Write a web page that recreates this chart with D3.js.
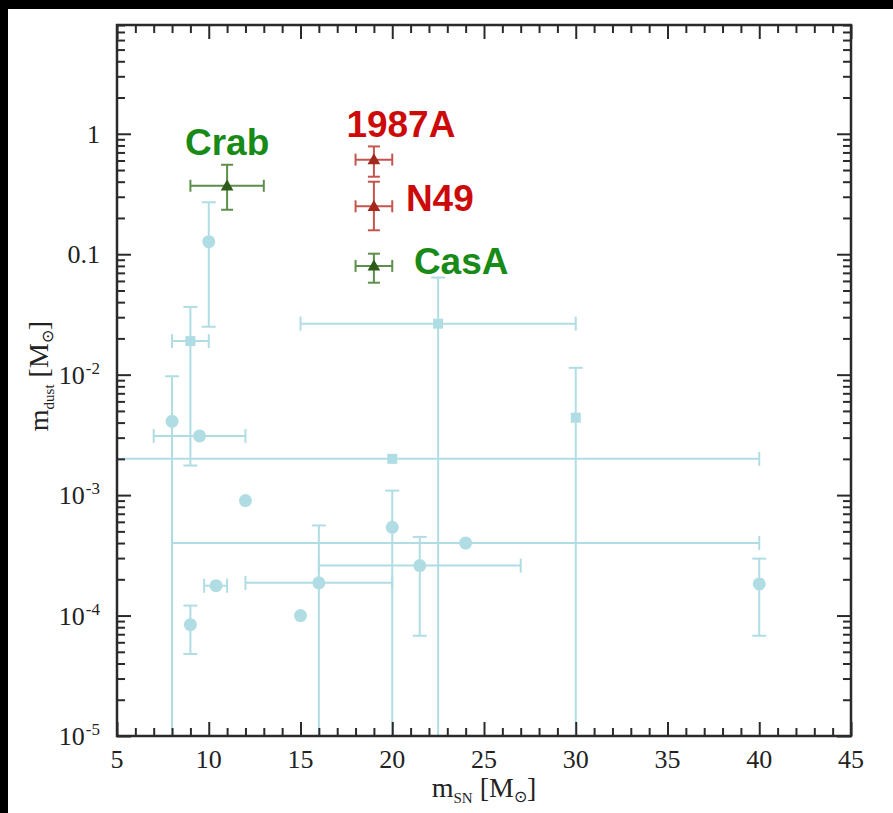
<html>
<head>
<meta charset="utf-8">
<script src="https://d3js.org/d3.v7.min.js"></script>
<style>
    body { margin: 0; background: #000; }
    svg { display: block; }
</style>
</head>
<body>
<div id="chart"></div>
<script>
    // supernova remnants (light blue sample)
    var snMass    = [10, 9, 8, 9.5, 20, 22.5, 30, 12, 20, 24, 21.5, 16, 10.4, 15, 9, 40];
    var dustMass  = [0.127, 0.019, 0.0041, 0.0031, 0.002, 0.0265, 0.0044, 0.0009, 0.00054, 0.0004, 0.00026, 0.000187, 0.000177, 0.0001, 0.000084, 0.000183];
    var snLo      = [null, 8, null, 7, 2, 15, null, null, null, 8, 16, 12, 9.75, null, null, null];
    var snHi      = [null, 10, null, 12, 40, 30, null, null, null, 40, 27, 20, 11, null, null, null];
    var dustLo    = [0.025, 0.00176, 1e-7, null, null, 1e-7, 1e-7, null, 1e-7, null, 0.000068, 1e-7, null, null, 0.000048, 0.000068];
    var dustHi    = [0.27, 0.0365, 0.0097, null, null, 0.064, 0.0114, null, 0.00109, null, 0.00045, 0.00056, null, null, 0.000121, 0.000297];
    var markShape = ["circle", "square", "circle", "circle", "square", "square", "square", "circle", "circle", "circle", "circle", "circle", "circle", "circle", "circle", "circle"];

    // highlighted remnants
    var hlName    = ["Crab", "1987A", "N49", "CasA"];
    var hlSn      = [11, 19, 19, 19];
    var hlDust    = [0.37, 0.61, 0.25, 0.08];
    var hlSnLo    = [9, 18, 18, 18];
    var hlSnHi    = [13, 20, 20, 20];
    var hlDustLo  = [0.234, 0.44, 0.158, 0.058];
    var hlDustHi  = [0.553, 0.785, 0.40, 0.101];
    var hlGroup   = ["green", "red", "red", "green"];

    // axis ticks
    var xTicks = [5, 10, 15, 20, 25, 30, 35, 40, 45];
    var yTicks = [1e-5, 1e-4, 1e-3, 1e-2, 0.1, 1];
    var yTickText = [["10", "-5"], ["10", "-4"], ["10", "-3"], ["10", "-2"], ["0.1", ""], ["1", ""]];

    var W = 893, H = 813;
    var pLeft = 117, pRight = 851, pTop = 25, pBottom = 736;
    var blue = "#b0dde4";
    var palette = {
        green: { text: "#178a17", bar: "#5d8e4b", mark: "#2c5c18" },
        red:   { text: "#cc0a0a", bar: "#c4554e", mark: "#a3281e" }
    };

    var svg = d3.select("#chart").append("svg")
        .attr("width", W).attr("height", H);

    // white page with the black margin seen in the scan
    svg.append("rect").attr("width", W).attr("height", H).attr("fill", "#000");
    svg.append("rect").attr("x", 8).attr("y", 9).attr("width", W - 8).attr("height", H - 9).attr("fill", "#fff");

    var x = d3.scaleLinear().domain([5, 45]).range([pLeft, pRight]);
    var y = d3.scaleLog().domain([1e-5, 8]).range([pBottom, pTop]);

    svg.append("clipPath").attr("id", "plotclip")
        .append("rect").attr("x", pLeft).attr("y", pTop)
        .attr("width", pRight - pLeft).attr("height", pBottom - pTop);

    var plot = svg.append("g").attr("clip-path", "url(#plotclip)");

    function errorBars(g, xv, yv, xl, xh, yl, yh, color, cap) {
        var px = x(xv), py = y(yv);
        if (xl != null) {
            g.append("line").attr("x1", x(xl)).attr("x2", x(xh)).attr("y1", py).attr("y2", py)
                .attr("stroke", color).attr("stroke-width", 2);
            [xl, xh].forEach(function (v) {
                g.append("line").attr("x1", x(v)).attr("x2", x(v)).attr("y1", py - cap).attr("y2", py + cap)
                    .attr("stroke", color).attr("stroke-width", 2);
            });
        }
        if (yl != null) {
            g.append("line").attr("x1", px).attr("x2", px).attr("y1", y(yl)).attr("y2", y(yh))
                .attr("stroke", color).attr("stroke-width", 2);
            [yl, yh].forEach(function (v) {
                g.append("line").attr("x1", px - cap).attr("x2", px + cap).attr("y1", y(v)).attr("y2", y(v))
                    .attr("stroke", color).attr("stroke-width", 2);
            });
        }
    }

    // light blue sample: bars first, markers on top
    snMass.forEach(function (d, i) {
        errorBars(plot, d, dustMass[i], snLo[i], snHi[i], dustLo[i], dustHi[i], blue, 7);
    });
    snMass.forEach(function (d, i) {
        if (markShape[i] == "circle") {
            plot.append("circle").attr("cx", x(d)).attr("cy", y(dustMass[i])).attr("r", 6.5).attr("fill", blue);
        } else {
            plot.append("rect").attr("x", x(d) - 5).attr("y", y(dustMass[i]) - 5)
                .attr("width", 10).attr("height", 10).attr("fill", blue);
        }
    });

    // highlighted remnants
    var tri = d3.symbol().type(d3.symbolTriangle).size(70);
    // label placement relative to each marker (dx, dy, anchor)
    var labelPos = [[0, -31, "middle"], [27, -23, "middle"], [32, 5, "start"], [40, 8, "start"]];
    hlName.forEach(function (name, i) {
        var c = palette[hlGroup[i]];
        errorBars(plot, hlSn[i], hlDust[i], hlSnLo[i], hlSnHi[i], hlDustLo[i], hlDustHi[i], c.bar, 6);
        plot.append("path").attr("d", tri)
            .attr("transform", "translate(" + x(hlSn[i]) + "," + (y(hlDust[i]) + 1) + ")")
            .attr("fill", c.mark);
        svg.append("text")
            .attr("x", x(hlSn[i]) + labelPos[i][0])
            .attr("y", y(hlDust[i]) + labelPos[i][1])
            .attr("text-anchor", labelPos[i][2])
            .style("font-family", "'Liberation Sans', Arial, sans-serif")
            .style("font-weight", "bold")
            .style("font-size", "37px")
            .attr("fill", c.text)
            .text(name);
    });

    // axes: ticks point inwards on all four sides
    var ink = "#2a2a2a";
    var xMinor = d3.range(5, 46, 1).filter(function (v) { return v % 5 != 0; });
    var yMinor = [];
    for (var e = -5; e <= 0; e++) {
        for (var m = 2; m <= 9; m++) {
            var v = m * Math.pow(10, e);
            if (v <= 8) yMinor.push(v);
        }
    }

    function styleAxis(g) {
        g.select(".domain").remove();
        g.selectAll("line").attr("stroke", ink).attr("stroke-width", 2);
    }

    svg.append("g").attr("transform", "translate(0," + pBottom + ")")
        .call(d3.axisBottom(x).tickValues(xTicks).tickSize(-14).tickFormat(""))
        .call(styleAxis);
    svg.append("g").attr("transform", "translate(0," + pBottom + ")")
        .call(d3.axisBottom(x).tickValues(xMinor).tickSize(-8).tickFormat(""))
        .call(styleAxis);
    svg.append("g").attr("transform", "translate(0," + pTop + ")")
        .call(d3.axisTop(x).tickValues(xTicks).tickSize(-14).tickFormat(""))
        .call(styleAxis);
    svg.append("g").attr("transform", "translate(0," + pTop + ")")
        .call(d3.axisTop(x).tickValues(xMinor).tickSize(-8).tickFormat(""))
        .call(styleAxis);
    svg.append("g").attr("transform", "translate(" + pLeft + ",0)")
        .call(d3.axisLeft(y).tickValues(yTicks).tickSize(-14).tickFormat(""))
        .call(styleAxis);
    svg.append("g").attr("transform", "translate(" + pLeft + ",0)")
        .call(d3.axisLeft(y).tickValues(yMinor).tickSize(-8).tickFormat(""))
        .call(styleAxis);
    svg.append("g").attr("transform", "translate(" + pRight + ",0)")
        .call(d3.axisRight(y).tickValues(yTicks).tickSize(-14).tickFormat(""))
        .call(styleAxis);
    svg.append("g").attr("transform", "translate(" + pRight + ",0)")
        .call(d3.axisRight(y).tickValues(yMinor).tickSize(-8).tickFormat(""))
        .call(styleAxis);

    // frame
    svg.append("rect").attr("x", pLeft).attr("y", pTop)
        .attr("width", pRight - pLeft).attr("height", pBottom - pTop)
        .attr("fill", "none").attr("stroke", ink).attr("stroke-width", 2.5);

    var serif = "'Liberation Serif', 'Times New Roman', serif";

    // tick labels
    svg.append("g").selectAll("text").data(xTicks).enter().append("text")
        .attr("x", function (d) { return x(d); })
        .attr("y", pBottom + 32)
        .attr("text-anchor", "middle")
        .style("font-family", serif).style("font-size", "26px").attr("fill", "#222")
        .text(function (d) { return d; });

    var yl = svg.append("g").selectAll("text").data(yTicks).enter().append("text")
        .attr("x", 100)
        .attr("y", function (d) { return y(d) + 9; })
        .attr("text-anchor", "end")
        .style("font-family", serif).style("font-size", "26px").attr("fill", "#222");
    yl.each(function (d, i) {
        var t = d3.select(this);
        t.append("tspan").text(yTickText[i][0]);
        if (yTickText[i][1] != "") {
            t.append("tspan").attr("dx", 1).attr("dy", -10).style("font-size", "17px").text(yTickText[i][1]);
        }
    });

    // axis titles
    function title(g, sub) {
        g.append("tspan").text("m");
        g.append("tspan").attr("dy", 6).style("font-size", "15px").text(sub);
        g.append("tspan").attr("dy", -6).text(" [M");
        g.append("tspan").attr("dy", 5).style("font-size", "16px").text("\u2299");
        g.append("tspan").attr("dy", -5).text("]");
    }
    svg.append("text")
        .attr("x", 484).attr("y", 797)
        .attr("text-anchor", "middle")
        .style("font-family", serif).style("font-size", "28px").attr("fill", "#222")
        .call(title, "SN");
    svg.append("text")
        .attr("transform", "translate(48,376) rotate(-90)")
        .attr("text-anchor", "middle")
        .style("font-family", serif).style("font-size", "28px").attr("fill", "#222")
        .call(title, "dust");
</script>
</body>
</html>
